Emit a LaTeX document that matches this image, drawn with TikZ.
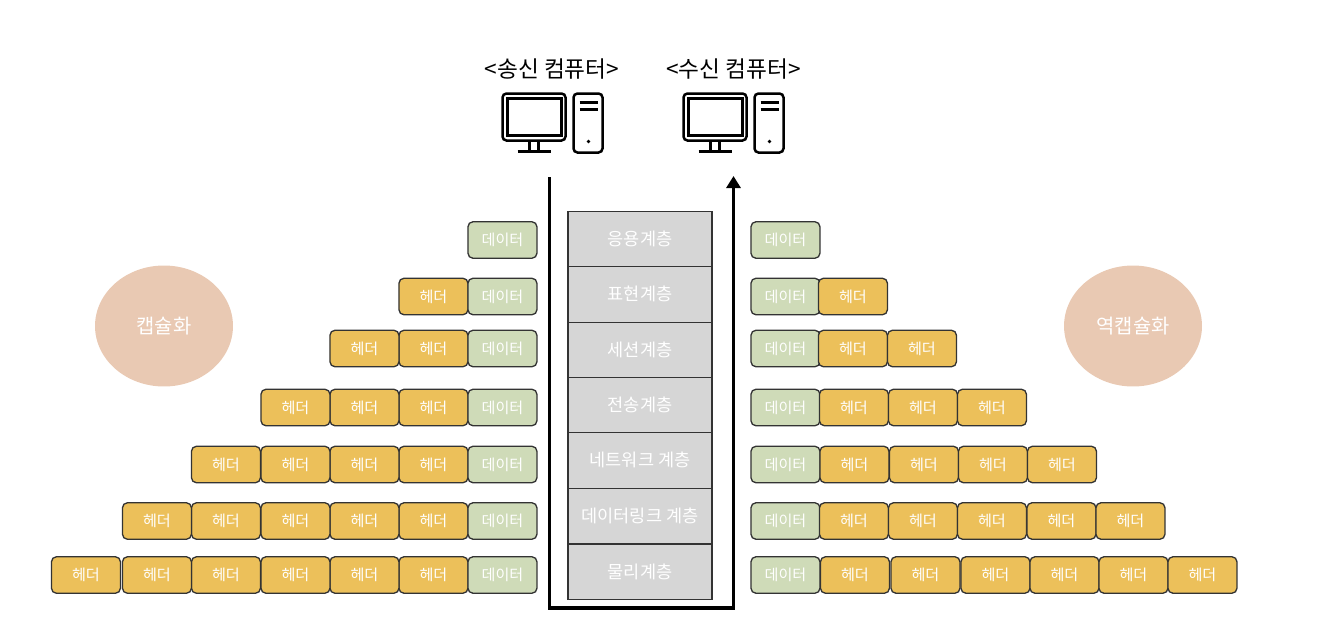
\documentclass[tikz,border=0pt]{standalone}
\usepackage{fontspec}
\setmainfont{Noto Sans CJK KR}
\usetikzlibrary{arrows.meta, shapes.geometric}
\definecolor{hdrcol}{HTML}{ECC05A}
\definecolor{datacol}{HTML}{CFDBB8}
\definecolor{layercol}{HTML}{D6D6D6}
\definecolor{capcol}{HTML}{E9C9B3}
\definecolor{edgecol}{HTML}{333333}
\tikzset{
  cellbox/.style={draw=edgecol, line width=0.75pt, rounded corners=0.1cm, anchor=west, xshift=-0.014cm,
    minimum width=1.38cm, minimum height=0.73cm, inner sep=0pt, text=white,
    font=\fontsize{8.6}{10}\selectfont},
  hdrbox/.style={cellbox, fill=hdrcol},
  databox/.style={cellbox, fill=datacol},
  layerbox/.style={draw=edgecol, line width=0.75pt, fill=layercol, minimum width=2.88cm,
    minimum height=1.11cm, inner sep=0pt, text=white, font=\fontsize{10}{12}\selectfont},
  capbox/.style={ellipse, fill=capcol, minimum width=2.76cm, minimum height=2.42cm,
    inner sep=0pt, text=white, font=\fontsize{11.3}{13}\selectfont},
  titletext/.style={font=\fontsize{12.9}{15}\selectfont, inner sep=0pt},
  computer/.pic={
    \draw[rounded corners=0.08cm] (0,0) rectangle (63,47);
    \draw (5,5) rectangle (59,42);
    \draw (27,47) -- (27,58) (36,47) -- (36,58);
    \draw (15,58) -- (48,58);
    \draw[rounded corners=0.08cm] (71,0) rectangle (100,59);
    \draw (77,9) -- (95,9) (77,16) -- (95,16);
    \fill (86,48) circle (1.8);
  }
}
\begin{document}
\begin{tikzpicture}[x=0.02cm, y=-0.02cm]
  \useasboundingbox (0,0) rectangle (1328,616);
  % computers
  \node[titletext] (sendtitle) at (552,69) {<송신 컴퓨터>};
  \node[titletext] (recvtitle) at (733.5,69) {<수신 컴퓨터>};
  \pic[line width=0.05cm] at (502.5,93.5) {computer};
  \pic[line width=0.05cm] at (683.5,93.5) {computer};
  % layers
  \foreach \y/\lbl [count=\i] in {239/응용계층, 294.5/표현계층, 350/세션계층, 405.5/전송계층,
      460.5/네트워크 계층, 516/데이터링크 계층, 572/물리계층}{
    \node[layerbox] (layer\i) at (640,\y) {\raisebox{1pt}{\lbl}};
  }
  % path through the layers
  \coordinate (sendtop) at (549.5,177);
  \coordinate (sendbot) at (549.5,608);
  \coordinate (recvbot) at (733.5,608);
  \coordinate (recvtop) at (733.5,176);
  \draw[line width=0.07cm, -{Triangle[length=0.24cm,width=0.28cm]}] (sendtop) -- (sendbot) -- (recvbot) -- (recvtop);
  % left side
  \foreach \y/\xlist [count=\r] in {240/{}, 296.5/{399}, 348.5/{399,330}, 407.5/{399,330,261},
      464.5/{399,330,261,191.5}, 521/{399,330,261,191.5,122.5}, 575/{399,330,261,191.5,122.5,51.5}}{
    \foreach \x [count=\n] in \xlist {
      \node[hdrbox] (hl\r-\n) at (\x,\y) {\raisebox{0.5pt}{헤더}};
    }
    \node[databox] (dl\r) at (468,\y) {\raisebox{0.5pt}{데이터}};
  }
  % right side
  \foreach \y/\xlist [count=\r] in {240/{}, 296.5/{818.5}, 348.5/{818.5,887.5}, 407.5/{819.5,888.5,957.5},
      464.5/{820,889.5,958.5,1027.5}, 521/{819.5,888.5,957.5,1027,1096}, 575/{820.5,891,961,1030,1099,1168}}{
    \node[databox] (dr\r) at (751,\y) {\raisebox{0.5pt}{데이터}};
    \foreach \x [count=\n] in \xlist {
      \node[hdrbox] (hr\r-\n) at (\x,\y) {\raisebox{0.5pt}{헤더}};
    }
  }
  % labels
  \node[capbox] (encap) at (164,326) {캡슐화};
  \node[capbox] (decap) at (1133,326) {역캡슐화};
\end{tikzpicture}
\end{document}
